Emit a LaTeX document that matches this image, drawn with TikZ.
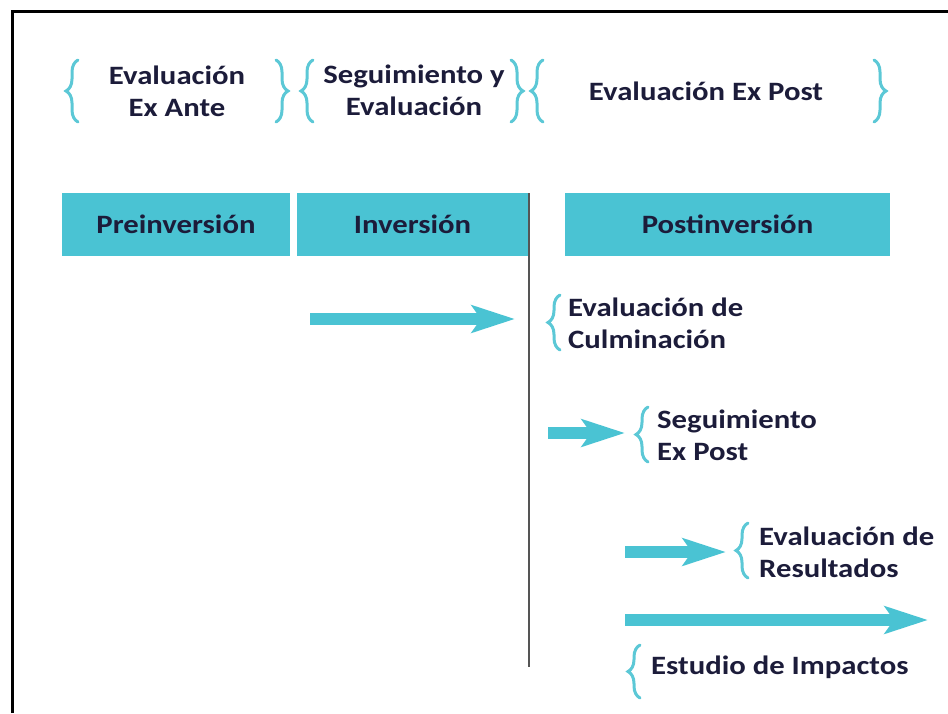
\documentclass[tikz,border=0pt]{standalone}
\usepackage{fontspec}
\usetikzlibrary{arrows.meta,decorations.pathreplacing}
\newfontfamily\lab{Carlito}[FakeStretch=1.16]
\definecolor{teal1}{HTML}{4AC3D3}
\definecolor{bracec}{HTML}{5CC8D6}
\definecolor{txt}{HTML}{1C1C3A}
\definecolor{vline}{HTML}{555555}
\begin{document}
\begin{tikzpicture}[x=1pt,y=-1pt,
  lbl/.style={font=\lab\bfseries\fontsize{26.5}{32}\selectfont, text=txt, inner sep=0pt, align=left},
  lblc/.style={lbl, align=center},
  phase/.style={fill=teal1, draw=none, minimum height=63pt, inner sep=0pt,
    font=\lab\bfseries\fontsize{26.5}{32}\selectfont, text=txt},
  brace/.style={draw=bracec, line width=3pt, line cap=round, decorate,
    decoration={brace, amplitude=12pt}},
  bigarrow/.style={draw=teal1, line width=12pt, -{Stealth[width=27pt,length=43pt,inset=9pt]}}]
\useasboundingbox (0,0) rectangle (948,713);
% frame
\coordinate (fbl) at (12,713);
\coordinate (ftl) at (12,11);
\coordinate (ftr) at (948,11);
\draw[line width=3pt] (fbl) -- (ftl) -- (ftr);
% top labels
\node[lblc] (exante) at (177,91) {Evaluación\\Ex Ante};
\node[lblc] (segev) at (414,90) {Seguimiento y\\Evaluación};
\node[lblc] (expost) at (706,91) {Evaluación Ex Post};
% top braces
\draw[brace] (78,122) -- (78,60);
\draw[brace] (276,60) -- (276,122);
\draw[brace] (313,122) -- (313,60);
\draw[brace] (511,60) -- (511,122);
\draw[brace] (543,122) -- (543,60);
\draw[brace] (874,60) -- (874,122);
% phases
\node[phase, minimum width=228pt] (pre) at (176,224.5) {Preinversión};
\node[phase, minimum width=231pt] (inv) at (412.5,224.5) {Inversión};
\node[phase, minimum width=325pt] (post) at (727.5,224.5) {Postinversión};
% vertical divider
\coordinate (vtop) at (529,193);
\coordinate (vbot) at (529,667);
\draw[vline, line width=2pt] (vtop) -- (vbot);
% arrows
\coordinate (a1s) at (310,319); \coordinate (a1e) at (515,319);
\coordinate (a2s) at (548,433); \coordinate (a2e) at (625,433);
\coordinate (a3s) at (625,552); \coordinate (a3e) at (726,552);
\coordinate (a4s) at (625,620); \coordinate (a4e) at (928,620);
\draw[bigarrow] (a1s) -- (a1e);
\draw[bigarrow] (a2s) -- (a2e);
\draw[bigarrow] (a3s) -- (a3e);
\draw[bigarrow] (a4s) -- (a4e);
% lower braces and labels
\draw[brace] (560,350) -- (560,295);
\node[lbl, anchor=west] (culm) at (568,323) {Evaluación de\\Culminación};
\draw[brace] (648,462) -- (648,407);
\node[lbl, anchor=west] (segxp) at (657,435) {Seguimiento\\Ex Post};
\draw[brace] (748,578) -- (748,523);
\node[lbl, anchor=west] (result) at (759,552) {Evaluación de\\Resultados};
\draw[brace] (640,698) -- (640,645);
\node[lbl, anchor=west] (impact) at (651,667) {Estudio de Impactos};
\end{tikzpicture}
\end{document}
